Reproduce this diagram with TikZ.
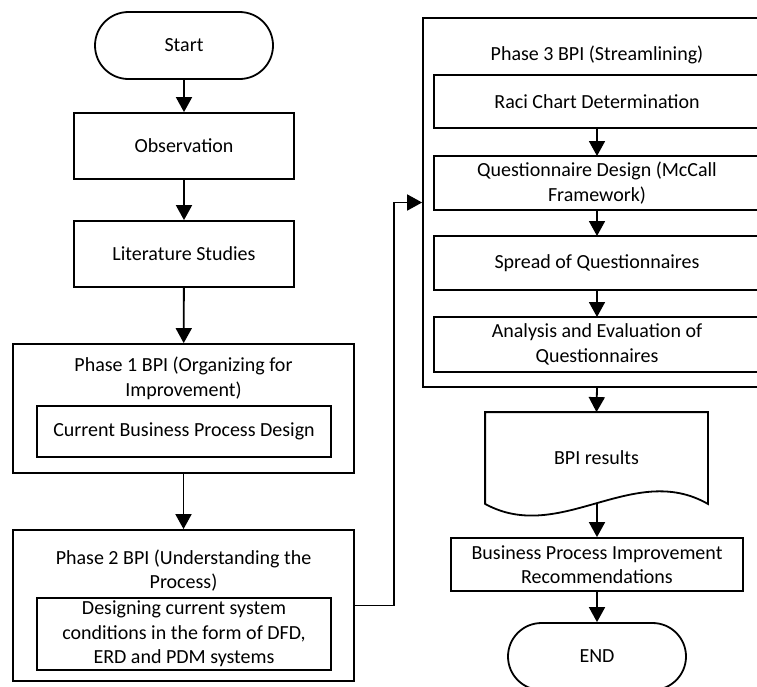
\documentclass[tikz,border=0pt]{standalone}
\usepackage{fontspec}
\setmainfont{Carlito}
\usetikzlibrary{arrows.meta,shapes.misc}
\begin{document}
\begin{tikzpicture}[x=1pt,y=-1pt,
  line width=1.8pt,
  every node/.style={font=\fontsize{20}{24.5}\selectfont, inner sep=0pt, align=center},
  box/.style={draw, rectangle, line width=1.8pt},
  term/.style={draw, rounded rectangle, line width=1.8pt},
  arr/.style={-{Triangle[length=15pt,width=16pt]}, line width=1.8pt}
]
\path[use as bounding box, clip] (0,0) rectangle (757,686);
% left column
\node[term, minimum width=178pt, minimum height=67pt] (start) at (184,45.5) {Start};
\node[box, minimum width=220pt, minimum height=66pt] (obs) at (184,146) {Observation};
\node[box, minimum width=220pt, minimum height=66pt] (lit) at (184,254) {Literature Studies};
\node[box, minimum width=341pt, minimum height=129pt] (p1) at (183.5,408.5) {};
\node (p1t) at (183.5,378.5) {Phase 1 BPI (Organizing for\\Improvement)};
\node[box, minimum width=294pt, minimum height=51pt] (p1i) at (184,431.5) {Current Business Process Design};
\node[box, minimum width=341pt, minimum height=151pt] (p2) at (183.5,605.5) {};
\node (p2t) at (183.5,570.5) {Phase 2 BPI (Understanding the\\Process)};
\node[box, minimum width=294pt, minimum height=72pt] (p2i) at (184,634) {Designing current system\\conditions in the form of DFD,\\ERD and PDM systems};
% right column
\node[box, minimum width=350pt, minimum height=369pt] (p3) at (598,202.5) {};
\node (p3t) at (597,55) {Phase 3 BPI (Streamlining)};
\node[box, minimum width=330pt, minimum height=53pt] (raci) at (599,101.5) {};
\node at (597,101.5) {Raci Chart Determination};
\node[box, minimum width=330pt, minimum height=54pt] (qd) at (599,183) {};
\node at (597,183) {Questionnaire Design (McCall\\Framework)};
\node[box, minimum width=330pt, minimum height=54pt] (sp) at (599,263) {};
\node at (597,263) {Spread of Questionnaires};
\node[box, minimum width=330pt, minimum height=55pt] (an) at (599,344.5) {};
\node at (597,344.5) {Analysis and Evaluation of\\Questionnaires};
\coordinate (p3b) at (597,387);
\coordinate (racib) at (597,128);
\coordinate (qdt) at (597,156);
\coordinate (qdb) at (597,210);
\coordinate (spt) at (597,236);
\coordinate (spb) at (597,290);
\coordinate (ant) at (597,317);
% document shape
\node[minimum width=221pt, minimum height=90pt] (doc) at (596.5,458) {BPI results};
\draw (doc.north west) -- (doc.north east) -- (doc.south east)
  .. controls (633,461) and (560,545) .. (doc.south west) -- cycle;
\coordinate (docb) at (597,504);
\node[box, minimum width=292pt, minimum height=53pt] (rec) at (597,564.5) {Business Process Improvement\\Recommendations};
\node[term, minimum width=178pt, minimum height=67pt] (end) at (597,656.5) {END};
% connectors
\draw[arr] (start) -- (obs);
\draw[arr] (obs) -- (lit);
\draw[arr] (lit) -- (p1);
\draw[arr] (p1) -- (p2);
\draw[arr] (p2.east) -- ++(39,0) |- (p3.west);
\draw[arr] (racib) -- (qdt);
\draw[arr] (qdb) -- (spt);
\draw[arr] (spb) -- (ant);
\draw[arr] (p3b) -- (doc.north);
\draw[arr] (docb) -- (rec.north);
\draw[arr] (rec) -- (end);
\end{tikzpicture}
\end{document}
